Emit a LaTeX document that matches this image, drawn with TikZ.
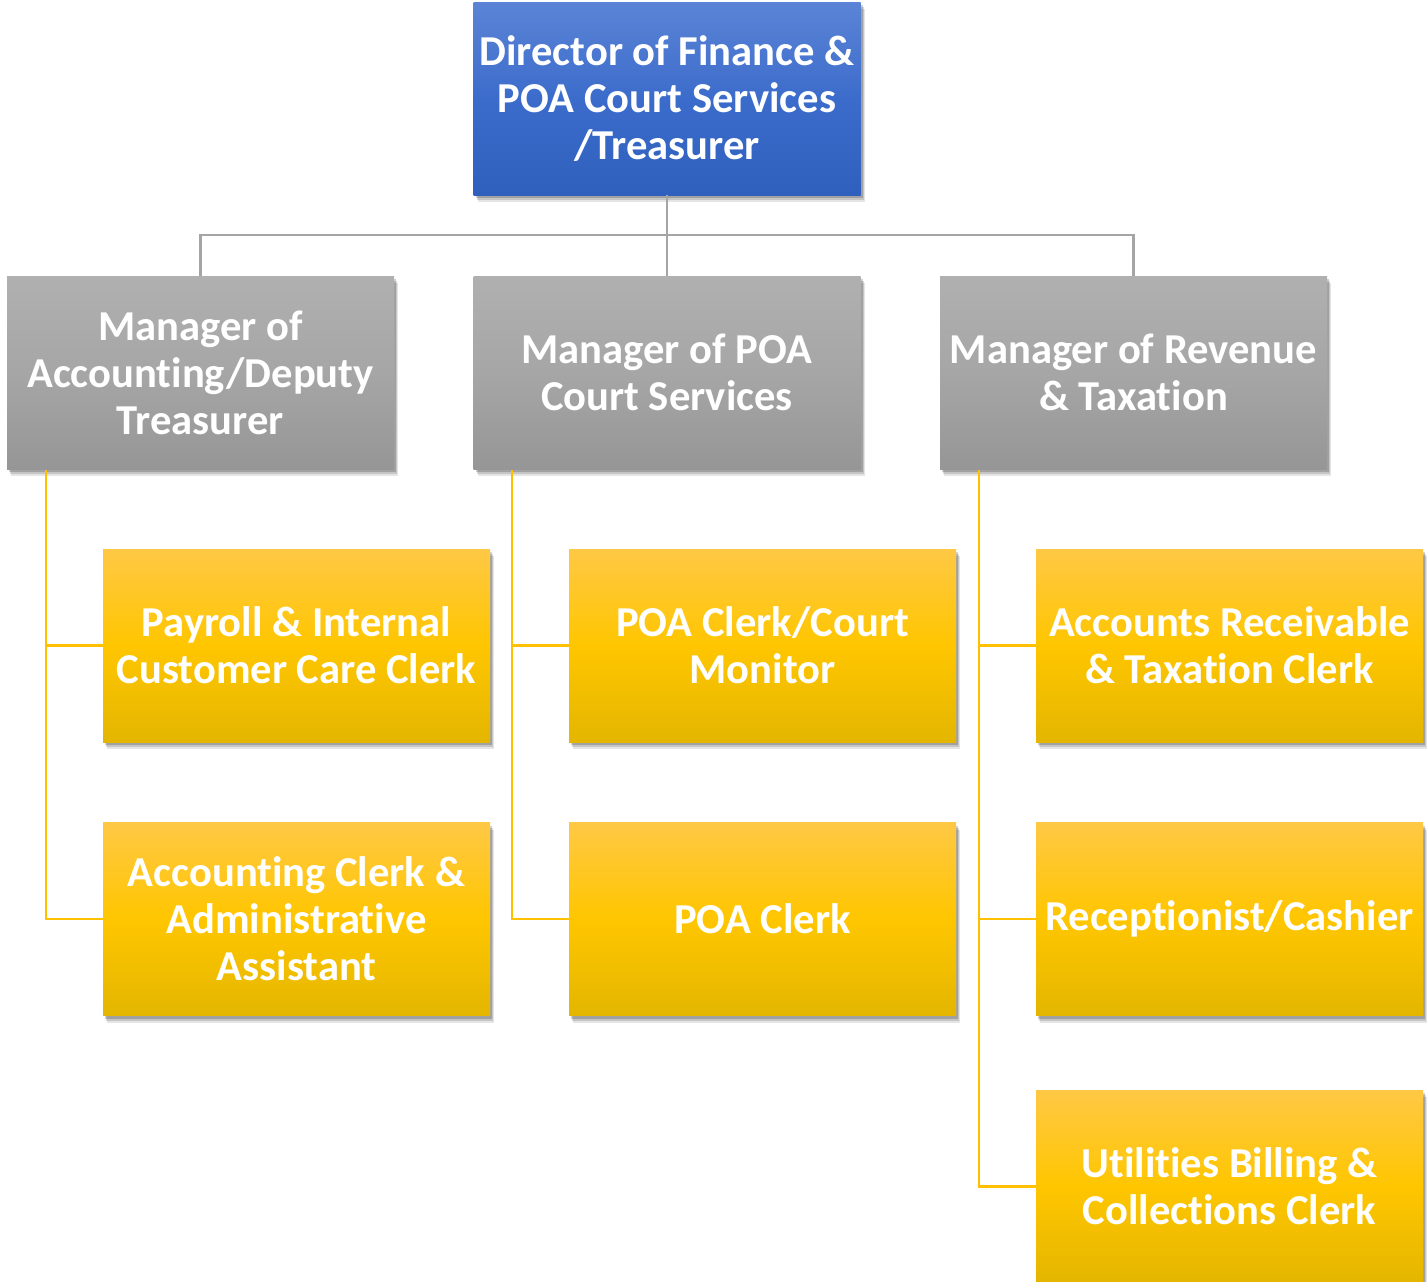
\documentclass[tikz,border=0pt]{standalone}
\usepackage{fontspec}
\setmainfont{Carlito}[Ligatures=NoCommon]
\usetikzlibrary{shadows}
\definecolor{blueT}{HTML}{5B84D6}
\definecolor{blueM}{HTML}{3C6CCB}
\definecolor{blueB}{HTML}{2F60BD}
\definecolor{grayT}{HTML}{B0B0B0}
\definecolor{grayM}{HTML}{A6A6A6}
\definecolor{grayB}{HTML}{969696}
\definecolor{yelT}{HTML}{FFC845}
\definecolor{yelM}{HTML}{FFC600}
\definecolor{yelB}{HTML}{E4B600}
\definecolor{gline}{HTML}{A5A5A5}
\definecolor{yline}{HTML}{FFC000}
\tikzset{
  box/.style={rectangle, minimum width=387pt, minimum height=193pt, text width=385pt,
    align=flush center, text=white, inner sep=0pt,
    font=\fontsize{42.6}{47}\selectfont\bfseries,
    drop shadow={shadow xshift=4pt, shadow yshift=-7pt, opacity=0.10, fill=black},
    drop shadow={shadow xshift=3pt, shadow yshift=-5pt, opacity=0.14, fill=black},
    drop shadow={shadow xshift=2pt, shadow yshift=-3pt, opacity=0.18, fill=black}},
  bluebox/.style={box, top color=blueT, bottom color=blueB, middle color=blueM},
  graybox/.style={box, top color=grayT, bottom color=grayB, middle color=grayM},
  yelbox/.style={box, top color=yelT, bottom color=yelB, middle color=yelM},
  gconn/.style={draw=gline, line width=2.8pt},
  yconn/.style={draw=yline, line width=2.8pt},
}
\begin{document}
\begin{tikzpicture}[x=1pt,y=-1pt]
\useasboundingbox (0,0) rectangle (1427,1282);
% connectors
\coordinate (bus) at (667,235);
\coordinate (l1) at (46,470);
\coordinate (l2) at (512,470);
\coordinate (l3) at (979,470);
% boxes
\node[bluebox] (dir) at (667,98.5) {Director of Finance \&\\POA Court Services\\/Treasurer};
\node[graybox] (m1) at (200.5,372.5) {Manager of\\Accounting/Deputy\\Treasurer};
\node[graybox] (m2) at (667,372.5) {Manager of POA\\Court Services};
\node[graybox] (m3) at (1133.5,372.5) {Manager of Revenue\\\& Taxation};
\node[yelbox] (a1) at (296.5,645.5) {Payroll \& Internal\\Customer Care Clerk};
\node[yelbox] (a2) at (296.5,919) {Accounting Clerk \&\\Administrative\\Assistant};
\node[yelbox] (b1) at (762.5,645.5) {POA Clerk/Court\\Monitor};
\node[yelbox] (b2) at (762.5,919) {POA Clerk};
\node[yelbox] (c1) at (1229.5,645.5) {Accounts Receivable\\\& Taxation Clerk};
\node[yelbox] (c2) at (1229.5,919) {Receptionist/Cashier};
\node[yelbox] (c3) at (1229.5,1186.5) {Utilities Billing \&\\Collections Clerk};
% lines
\draw[gconn] (dir.south) -- (bus);
\draw[gconn] (bus) -| (m1.north);
\draw[gconn] (bus) -- (m2.north);
\draw[gconn] (bus) -| (m3.north);
\draw[yconn] (l1) |- (a1.west);
\draw[yconn] (l1) |- (a2.west);
\draw[yconn] (l2) |- (b1.west);
\draw[yconn] (l2) |- (b2.west);
\draw[yconn] (l3) |- (c1.west);
\draw[yconn] (l3) |- (c2.west);
\draw[yconn] (l3) |- (c3.west);
\end{tikzpicture}
\end{document}
